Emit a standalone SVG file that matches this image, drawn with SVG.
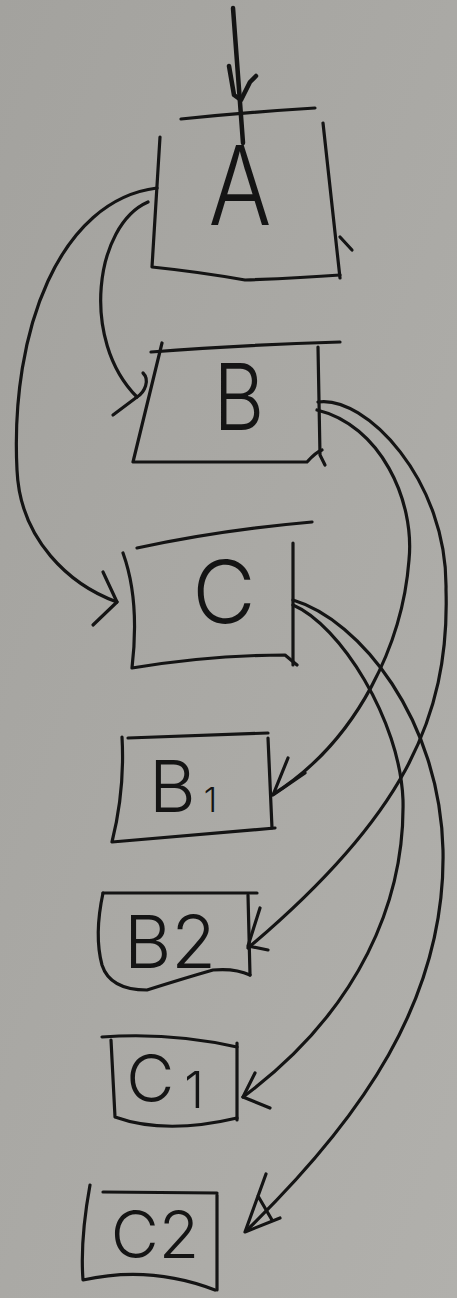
<svg xmlns="http://www.w3.org/2000/svg" width="457" height="1298" viewBox="0 0 457 1298">
<defs>
<linearGradient id="paper" x1="0" y1="0" x2="1" y2="1">
<stop offset="0" stop-color="#a3a29e"/>
<stop offset="0.5" stop-color="#aaa9a5"/>
<stop offset="1" stop-color="#b1b0ac"/>
</linearGradient>
<style>
.ink{fill:none;stroke:#141414;stroke-width:3.2;stroke-linecap:round;stroke-linejoin:round}
.thick{stroke-width:4.5}
.lbl{font-family:Inter,"Open Sans","Liberation Sans",sans-serif;font-weight:300;fill:#141414;text-anchor:middle}
</style>
</defs>
<rect x="0" y="0" width="457" height="1298" fill="url(#paper)"/>

<g id="connectors">
<path class="ink thick" d="M233,8 L243,143"/>
<path class="ink thick" d="M229,66 L234,95 L241,100 L250,82 L256,76"/>
<path class="ink" d="M148,202 C 95,225 80,340 137,397"/>
<path class="ink" d="M143,373 C 150,380 145,392 137,397 L113,415"/>
<path class="ink" d="M157,188 C 60,200 10,330 17,470 C 20,540 70,585 117,602"/>
<path class="ink" d="M103,572 L117,602 L93,625"/>
<path class="ink" d="M317,410 C 380,425 415,500 409,560 C 403,640 360,740 272,795"/>
<path class="ink" d="M288,758 L273,795 L305,773"/>
<path class="ink" d="M318,402 C 365,395 448,480 446,590 C 450,720 400,820 248,948"/>
<path class="ink" d="M260,908 L248,946 L268,950"/>
<path class="ink" d="M293,605 C 340,625 400,720 403,800 C 405,900 360,1010 243,1097"/>
<path class="ink" d="M255,1073 L243,1097 L270,1108"/>
<path class="ink" d="M293,600 C 360,620 440,720 443,850 C 446,1000 360,1120 247,1230"/>
<path class="ink" d="M266,1174 L245,1232 L280,1218 M258,1196 L272,1220"/>
</g>

<g id="node-A">
<path class="ink" d="M181,119 Q 250,112 315,108"/>
<path class="ink" d="M160,137 L152,267 Q 200,272 245,280 Q 300,278 340,275"/>
<path class="ink" d="M323,123 L340,278"/>
<path class="ink" d="M340,237 L352,250"/>
<text class="lbl" x="240" y="225" font-size="110" transform="translate(240 0) scale(0.85 1) translate(-240 0)">A</text>
</g>

<g id="node-B">
<path class="ink" d="M151,352 Q 240,345 340,342"/>
<path class="ink" d="M162,343 L133,462 L307,462 Q 316,452 322,450"/>
<path class="ink" d="M318,347 L320,455 L325,465"/>
<text class="lbl" x="239" y="430" font-size="92" transform="translate(239 0) scale(0.85 1) translate(-239 0)">B</text>
</g>

<g id="node-C">
<path class="ink" d="M137,548 Q 220,530 312,522"/>
<path class="ink" d="M123,553 Q 140,600 132,668 Q 210,655 285,655 L297,665"/>
<path class="ink" d="M293,543 L293,665"/>
<text class="lbl" x="224" y="623" font-size="87">C</text>
</g>

<g id="node-B1">
<path class="ink" d="M128,738 L268,733"/>
<path class="ink" d="M122,737 Q 125,790 112,842 L275,828"/>
<path class="ink" d="M268,738 L272,828"/>
<text class="lbl" x="183" y="812" font-size="72">B<tspan font-size="34" dx="8">1</tspan></text>
</g>

<g id="node-B2">
<path class="ink" d="M103,893 L257,893"/>
<path class="ink" d="M103,893 Q 94,935 102,965 Q 110,990 147,990 Q 185,978 213,970 Q 235,968 250,975"/>
<path class="ink" d="M248,895 L250,975"/>
<text class="lbl" x="170" y="968" font-size="73">B2</text>
</g>

<g id="node-C1">
<path class="ink" d="M102,1037 Q 170,1032 237,1047"/>
<path class="ink" d="M111,1040 L115,1117 Q 165,1135 237,1118"/>
<path class="ink" d="M237,1043 L237,1120"/>
<text class="lbl" x="165" y="1102" font-size="66">C<tspan font-size="50" dx="10" dy="6">1</tspan></text>
</g>

<g id="node-C2">
<path class="ink" d="M103,1192 L217,1193"/>
<path class="ink" d="M90,1185 Q 80,1240 83,1280 Q 150,1265 215,1290"/>
<path class="ink" d="M217,1195 L217,1290"/>
<text class="lbl" x="155" y="1258" font-size="66">C2</text>
</g>
</svg>
